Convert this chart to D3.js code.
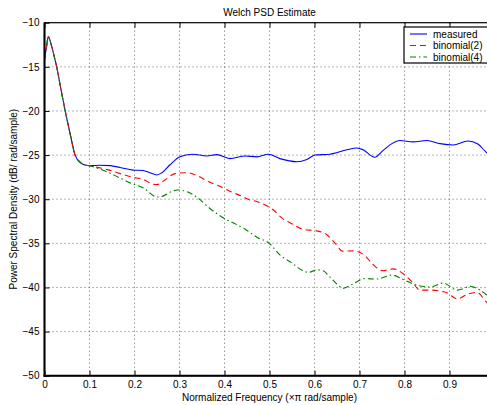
<!DOCTYPE html>
<html>
<head>
<meta charset="utf-8">
<script src="https://cdn.jsdelivr.net/npm/d3@7"></script>
<style>
  html, body { margin: 0; padding: 0; background: #fff; overflow: hidden; }
  svg { display: block; font-family: "Liberation Sans", Arial, Helvetica, sans-serif; }
</style>
</head>
<body>
<svg id="chart" width="487" height="405"></svg>
<script>
// Shared low-frequency roll-off (all three estimates coincide here)
const headFreq = [0, 0.004, 0.0085, 0.015, 0.021, 0.027, 0.036, 0.046, 0.057, 0.068, 0.080, 0.092];
const headDb   = [-14.15, -12.9, -11.6, -12.5, -13.7, -15.0, -17.4, -20.0, -22.6, -25.0, -25.85, -26.15];

// Measured spectrum
const measuredFreq = [0.100, 0.123, 0.146, 0.168, 0.197, 0.219, 0.234, 0.250, 0.261, 0.279, 0.301, 0.328,
  0.361, 0.383, 0.412, 0.446, 0.472, 0.497, 0.523, 0.561, 0.583, 0.601, 0.634, 0.672, 0.694, 0.708,
  0.734, 0.752, 0.772, 0.790, 0.819, 0.850, 0.879, 0.908, 0.941, 0.963, 0.983, 1.000];
const measuredDb = [-26.2, -26.15, -26.2, -26.4, -26.7, -26.75, -27.0, -27.25, -27.0, -26.1, -25.2, -24.9,
  -25.1, -24.95, -25.4, -25.1, -25.2, -24.9, -25.4, -25.75, -25.5, -25.0, -24.9, -24.4, -24.2, -24.4,
  -25.25, -24.5, -23.7, -23.35, -23.5, -23.35, -23.7, -23.85, -23.4, -23.75, -24.75, -25.4];

// Binomial model, order 2
const binomial2Freq = [0.100, 0.123, 0.140, 0.168, 0.195, 0.219, 0.241, 0.250, 0.267, 0.290, 0.317, 0.342,
  0.364, 0.392, 0.412, 0.440, 0.457, 0.468, 0.486, 0.508, 0.528, 0.552, 0.574, 0.606, 0.628, 0.646,
  0.663, 0.686, 0.712, 0.730, 0.752, 0.774, 0.801, 0.819, 0.834, 0.857, 0.894, 0.917, 0.939, 0.961,
  0.983, 1.000];
const binomial2Db = [-26.2, -26.45, -26.65, -27.1, -27.5, -27.75, -28.3, -28.35, -27.85, -27.1, -27.0, -27.4,
  -28.0, -28.6, -29.1, -29.7, -30.1, -30.2, -30.55, -31.2, -32.15, -32.85, -33.4, -33.6, -34.05, -35.0,
  -35.9, -35.85, -36.4, -37.4, -38.1, -37.9, -38.6, -39.5, -40.3, -40.3, -40.6, -41.3, -40.8, -40.55,
  -41.7, -42.3];

// Binomial model, order 4
const binomial4Freq = [0.100, 0.118, 0.139, 0.168, 0.195, 0.219, 0.250, 0.263, 0.279, 0.295, 0.317, 0.342,
  0.364, 0.397, 0.428, 0.446, 0.475, 0.497, 0.523, 0.550, 0.574, 0.586, 0.606, 0.619, 0.634, 0.652,
  0.663, 0.682, 0.712, 0.739, 0.772, 0.797, 0.819, 0.857, 0.886, 0.917, 0.946, 0.968, 0.983, 1.000];
const binomial4Db = [-26.2, -26.5, -26.9, -27.6, -28.25, -28.7, -29.75, -29.65, -29.2, -28.95, -29.15, -29.9,
  -30.9, -32.1, -32.9, -33.4, -34.4, -34.9, -36.3, -37.25, -38.1, -38.3, -38.0, -38.1, -38.8, -39.7,
  -40.1, -39.7, -39.0, -39.05, -38.6, -39.1, -39.6, -39.95, -39.5, -40.3, -39.9, -40.3, -40.85, -41.3];

const xTicks = [0, 0.1, 0.2, 0.3, 0.4, 0.5, 0.6, 0.7, 0.8, 0.9];
const yTicks = [-50, -45, -40, -35, -30, -25, -20, -15, -10];

const titleText = "Welch PSD Estimate";
const xLabelText = "Normalized Frequency  (\u00d7\u03c0 rad/sample)";
const yLabelText = "Power Spectral Density (dB/ rad/sample)";

const seriesNames = ["measured", "binomial(2)", "binomial(4)"];
const seriesColors = ["#0000ff", "#ff0000", "#008000"];
const seriesDash = [null, "6,4", "6,3,1.5,3"];

// ---- layout ----
const svg = d3.select("#chart");
const plot = { left: 44.5, right: 494.5, top: 22.7, bottom: 375.7 };

const x = d3.scaleLinear().domain([0, 1]).range([plot.left, plot.right]);
const y = d3.scaleLinear().domain([-50, -10]).range([plot.bottom, plot.top]);

const build = (f, v) => headFreq.map((d, i) => [d, headDb[i]]).concat(f.map((d, i) => [d, v[i]]));
const series = [
  build(measuredFreq, measuredDb),
  build(binomial2Freq, binomial2Db),
  build(binomial4Freq, binomial4Db)
];

svg.append("defs").append("clipPath").attr("id", "plotClip")
  .append("rect")
  .attr("x", plot.left).attr("y", plot.top)
  .attr("width", plot.right - plot.left).attr("height", plot.bottom - plot.top);

// grid
const grid = svg.append("g").attr("stroke", "#444").attr("stroke-width", 0.8)
  .attr("stroke-dasharray", "1,3");
xTicks.slice(1).forEach(t => {
  grid.append("line").attr("x1", x(t)).attr("x2", x(t))
    .attr("y1", plot.top).attr("y2", plot.bottom);
});
yTicks.slice(1, -1).forEach(t => {
  grid.append("line").attr("x1", plot.left).attr("x2", plot.right)
    .attr("y1", y(t)).attr("y2", y(t));
});

// axes with inward ticks
const xAxisBottom = d3.axisBottom(x).tickValues(xTicks).tickSizeInner(-5).tickSizeOuter(0)
  .tickPadding(5).tickFormat(d => d === 0 ? "0" : d3.format(".1f")(d));
const gxb = svg.append("g").attr("transform", `translate(0,${plot.bottom})`).call(xAxisBottom);
gxb.select(".domain").remove();
gxb.selectAll("text").attr("font-size", 10).attr("fill", "#000")
  .attr("font-family", "Liberation Sans, Arial, sans-serif");
gxb.selectAll("line").attr("stroke", "#000");

const xAxisTop = d3.axisTop(x).tickValues(xTicks).tickSizeInner(-5).tickSizeOuter(0).tickFormat("");
const gxt = svg.append("g").attr("transform", `translate(0,${plot.top})`).call(xAxisTop);
gxt.select(".domain").remove();
gxt.selectAll("line").attr("stroke", "#000");

const yAxis = d3.axisLeft(y).tickValues(yTicks).tickSizeInner(-5).tickSizeOuter(0)
  .tickPadding(5).tickFormat(d => d3.format("d")(d).replace("-", "\u2212"));
const gy = svg.append("g").attr("transform", `translate(${plot.left},0)`).call(yAxis);
gy.select(".domain").remove();
gy.selectAll("text").attr("font-size", 10).attr("fill", "#000")
  .attr("font-family", "Liberation Sans, Arial, sans-serif");
gy.selectAll("line").attr("stroke", "#000");

// curves
const line = d3.line().x(d => x(d[0])).y(d => y(d[1])).curve(d3.curveMonotoneX);
const curves = svg.append("g").attr("clip-path", "url(#plotClip)");
series.forEach((s, i) => {
  curves.append("path").datum(s)
    .attr("d", line)
    .attr("fill", "none")
    .attr("stroke", seriesColors[i])
    .attr("stroke-width", 1.1)
    .attr("stroke-dasharray", seriesDash[i]);
});

// axes box
svg.append("rect")
  .attr("x", plot.left).attr("y", plot.top)
  .attr("width", plot.right - plot.left).attr("height", plot.bottom - plot.top)
  .attr("fill", "none").attr("stroke", "#000").attr("stroke-width", 1.2);
svg.append("line").attr("x1", plot.left).attr("x2", plot.left)
  .attr("y1", plot.top).attr("y2", plot.bottom + 1)
  .attr("stroke", "#000").attr("stroke-width", 2);
svg.append("line").attr("x1", plot.left - 1).attr("x2", plot.right)
  .attr("y1", plot.bottom).attr("y2", plot.bottom)
  .attr("stroke", "#000").attr("stroke-width", 2);

// title and labels
svg.append("text").attr("x", (plot.left + plot.right) / 2).attr("y", 16)
  .attr("text-anchor", "middle").attr("font-size", 10).text(titleText);
svg.append("text").attr("x", (plot.left + plot.right) / 2).attr("y", 401)
  .attr("text-anchor", "middle").attr("font-size", 10).text(xLabelText);
svg.append("text")
  .attr("transform", `translate(17,${(plot.top + plot.bottom) / 2}) rotate(-90)`)
  .attr("text-anchor", "middle").attr("font-size", 10).text(yLabelText);

// legend
const legend = svg.append("g").attr("transform", "translate(404,27)");
legend.append("rect").attr("width", 86).attr("height", 36)
  .attr("fill", "#fff").attr("stroke", "#000").attr("stroke-width", 1.2);
seriesNames.forEach((name, i) => {
  const ly = 7 + i * 11.5;
  legend.append("line").attr("x1", 6).attr("x2", 23).attr("y1", ly).attr("y2", ly)
    .attr("stroke", seriesColors[i]).attr("stroke-width", 1.1)
    .attr("stroke-dasharray", seriesDash[i]);
  legend.append("text").attr("x", 29).attr("y", ly + 3.5)
    .attr("font-size", 10).text(name);
});
</script>
</body>
</html>
